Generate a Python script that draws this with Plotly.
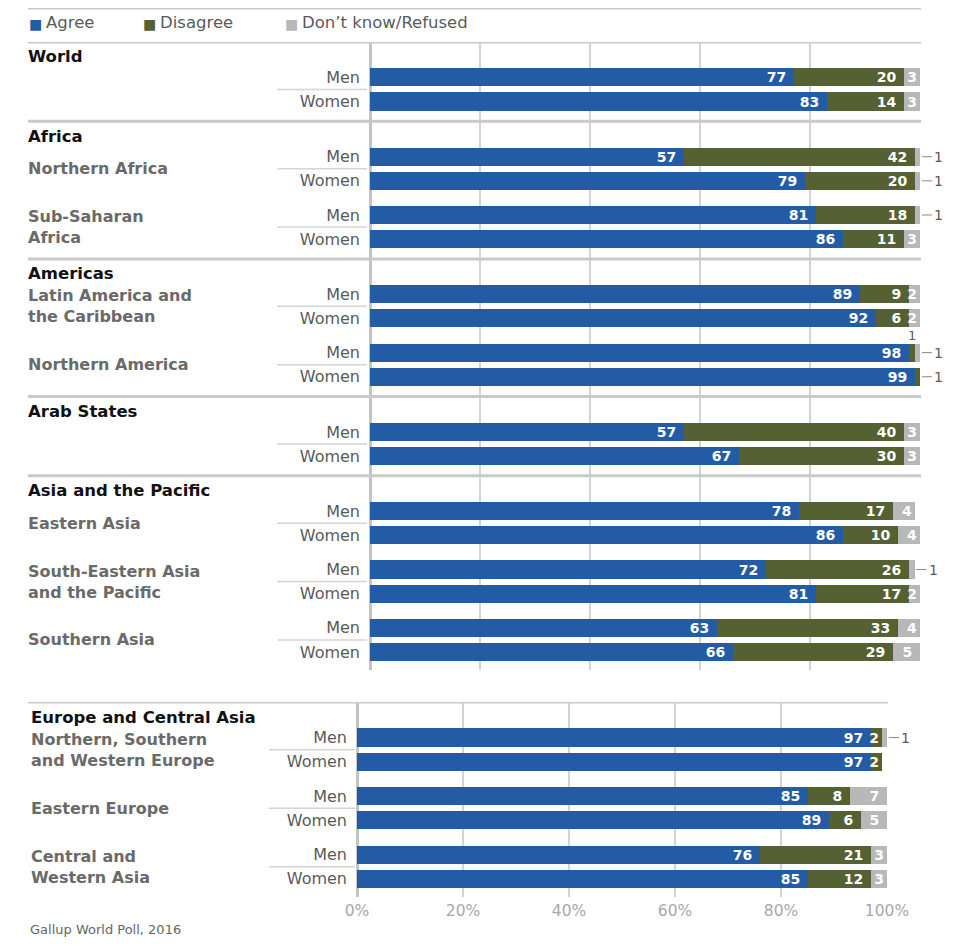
import plotly.graph_objects as go

# ---------------- data ----------------
sections = ["World", "Africa", "Americas", "Arab States", "Asia and the Pacific",
            "Europe and Central Asia"]
section_panel = [0, 0, 0, 0, 0, 1]

regions = ["World", "Northern Africa", "Sub-Saharan Africa",
           "Latin America and the Caribbean", "Northern America", "Arab States",
           "Eastern Asia", "South-Eastern Asia and the Pacific", "Southern Asia",
           "Northern, Southern and Western Europe", "Eastern Europe",
           "Central and Western Asia"]
region_labels = ["", "Northern Africa", "Sub-Saharan<br>Africa",
                 "Latin America and<br>the Caribbean", "Northern America", "",
                 "Eastern Asia", "South-Eastern Asia<br>and the Pacific", "Southern Asia",
                 "Northern, Southern<br>and Western Europe", "Eastern Europe",
                 "Central and<br>Western Asia"]
region_section = [0, 1, 1, 2, 2, 3, 4, 4, 4, 5, 5, 5]
sexes = ["Men", "Women"]

agree_men      = [77, 57, 81, 89, 98, 57, 78, 72, 63, 97, 85, 76]
agree_women    = [83, 79, 86, 92, 99, 67, 86, 81, 66, 97, 89, 85]
disagree_men   = [20, 42, 18, 9, 1, 40, 17, 26, 33, 2, 8, 21]
disagree_women = [14, 20, 11, 6, 1, 30, 10, 17, 29, 2, 6, 12]
dk_men         = [3, 1, 1, 2, 1, 3, 4, 1, 4, 1, 7, 3]
dk_women       = [3, 1, 3, 2, 0, 3, 4, 2, 5, 0, 5, 3]

series_names = ["Agree", "Disagree", "Don\u2019t know/Refused"]
x_ticks = [0, 20, 40, 60, 80, 100]
source = "Gallup World Poll, 2016"

# ---------------- style ----------------
OFF = 8                      # page body margin
W, H = 960 - OFF, 950 - OFF
COLORS = ["#235ca5", "#556033", "#b8b8b8"]
FONT = "DejaVu Sans"
GRAY_TXT = "#5a5a5a"
RULE = "#c9c9c9"
GRID = "#d4d4d4"

# vertical layout in row units
R2H, H2M, ROW, W2M, W2R, W2E = 0.62, 0.85, 1.0, 1.42, 0.82, 0.75

# pixel extents of the two panels (in reference screen pixels)
panel_px = [dict(y0=42, y1=670, x0=370, x1=920, left=26, right=921, sep=(277, 367)),
            dict(y0=702, y1=897, x0=357, x1=887, left=29, right=888, sep=(269, 355))]


def px2y(p):
    return 1 - (p - OFF) / H


def px2x(p):
    return (p - OFF) / W


def seg_label(v):
    if v <= 1:
        return ""
    return str(v) + ("\u00a0" if v >= 5 else "")


fig = go.Figure()
shapes, annotations = [], []

for panel in (0, 1):
    pp = panel_px[panel]
    yref = "y" if panel == 0 else "y2"
    xref = "x" if panel == 0 else "x2"
    secs = [i for i, p in enumerate(section_panel) if p == panel]
    pos = 0.0
    ys, xs = [], [[], [], []]
    texts = [[], [], []]
    ticktext = []
    for si, s in enumerate(secs):
        shapes.append(dict(type="line", xref="paper", yref=yref,
                           x0=px2x(28), x1=px2x(pp["right"]), y0=pos, y1=pos,
                           line=dict(color=RULE, width=3)))
        hdr = pos + R2H
        annotations.append(dict(xref="paper", yref=yref, x=px2x(pp["left"]),
                                y=hdr, text="<b>" + sections[s] + "</b>",
                                showarrow=False, xanchor="left", yanchor="middle",
                                font=dict(family=FONT, size=16.5, color="#111")))
        regs = [r for r, rs in enumerate(region_section) if rs == s]
        cur = hdr + H2M
        for ri, r in enumerate(regs):
            if ri > 0:
                cur += W2M
            men_y, women_y = cur, cur + ROW
            cur = women_y
            if region_labels[r]:
                annotations.append(dict(xref="paper", yref=yref,
                                        x=px2x(pp["left"]),
                                        y=(men_y + women_y) / 2,
                                        text="<b>" + region_labels[r] + "</b>",
                                        showarrow=False, xanchor="left", yanchor="middle",
                                        align="left",
                                        font=dict(family=FONT, size=16, color="#6a6a6a")))
            shapes.append(dict(type="line", xref="paper", yref=yref,
                               x0=px2x(pp["sep"][0]), x1=px2x(pp["sep"][1]),
                               y0=(men_y + women_y) / 2, y1=(men_y + women_y) / 2,
                               line=dict(color=GRID, width=1.5)))
            for sx, yv in zip(sexes, (men_y, women_y)):
                if sx == "Men":
                    vals = [agree_men[r], disagree_men[r], dk_men[r]]
                else:
                    vals = [agree_women[r], disagree_women[r], dk_women[r]]
                ys.append(yv)
                ticktext.append(sx)
                last_nz = max(i for i, v in enumerate(vals) if v > 0)
                for k in range(3):
                    xs[k].append(vals[k])
                    texts[k].append(seg_label(vals[k]))
                    if vals[k] == 1:
                        if k == last_nz:
                            annotations.append(dict(
                                xref=xref, yref=yref, x=sum(vals), y=yv, text="1",
                                showarrow=True, arrowhead=0, arrowwidth=1,
                                arrowcolor="#8a8a8a", ax=12, ay=0, standoff=2,
                                xanchor="left", yanchor="middle",
                                font=dict(family=FONT, size=14, color=GRAY_TXT)))
                        else:
                            annotations.append(dict(
                                xref=xref, yref=yref, x=sum(vals[:k]) + vals[k] / 2,
                                y=yv, yshift=17, text="1", showarrow=False,
                                font=dict(family=FONT, size=13, color=GRAY_TXT)))
        if si < len(secs) - 1:
            pos = cur + W2R
        else:
            end = cur + W2E

    for k in range(3):
        fig.add_trace(go.Bar(
            x=xs[k], y=ys, orientation="h", name=series_names[k],
            marker=dict(color=COLORS[k], line=dict(width=0)), width=0.75,
            text=texts[k], textposition="inside", insidetextanchor="end",
            textangle=0, constraintext="none", cliponaxis=False,
            textfont=dict(family=FONT, size=14, color="white", weight="bold"),
            xaxis=xref, yaxis=yref, showlegend=False, hoverinfo="skip"))

    yax = dict(domain=[px2y(pp["y1"]), px2y(pp["y0"])], range=[end, 0],
               anchor=xref, automargin=False,
               tickmode="array", tickvals=ys, ticktext=ticktext,
               tickfont=dict(family=FONT, size=16, color=GRAY_TXT),
               ticks="", ticklabelstandoff=9, showgrid=False, zeroline=False,
               showline=False, fixedrange=True)
    xax = dict(domain=[px2x(pp["x0"]), px2x(pp["x1"])], range=[0, 100],
               anchor=yref, automargin=False,
               tickmode="array", tickvals=x_ticks,
               ticktext=[f"{t}%" for t in x_ticks],
               showticklabels=(panel == 1),
               tickfont=dict(family=FONT, size=15.5, color="#a8a8a8"),
               ticks="", ticklabelstandoff=2, showgrid=True, gridcolor=GRID, gridwidth=1.5,
               zeroline=True, zerolinecolor="#c4c4c4", zerolinewidth=3,
               showline=False, fixedrange=True)
    if panel == 0:
        fig.update_layout(yaxis=yax, xaxis=xax)
    else:
        fig.update_layout(yaxis2=yax, xaxis2=xax)

# top rule
shapes.append(dict(type="line", xref="paper", yref="paper", x0=px2x(28), x1=px2x(921),
                   y0=px2y(8), y1=px2y(8), line=dict(color=RULE, width=3)))

# legend
leg_x = [(27, 44), (141, 158), (283, 300)]
for k, (sxp, txp) in enumerate(leg_x):
    annotations.append(dict(xref="paper", yref="paper", x=px2x(sxp), y=px2y(24),
                            text="\u25a0", showarrow=False, xanchor="left", yanchor="middle",
                            font=dict(family=FONT, size=14, color=COLORS[k])))
    annotations.append(dict(xref="paper", yref="paper", x=px2x(txp), y=px2y(23),
                            text=series_names[k], showarrow=False, xanchor="left",
                            yanchor="middle",
                            font=dict(family=FONT, size=16.5, color=GRAY_TXT)))

annotations.append(dict(xref="paper", yref="paper", x=px2x(28), y=px2y(929),
                        text=source, showarrow=False, xanchor="left", yanchor="middle",
                        font=dict(family=FONT, size=13, color="#666")))

fig.update_layout(width=W, height=H, margin=dict(l=0, r=0, t=0, b=0, autoexpand=False),
                  barmode="stack", bargap=0, plot_bgcolor="white", paper_bgcolor="white",
                  shapes=shapes, annotations=annotations, showlegend=False)

fig.write_html("out.html")
